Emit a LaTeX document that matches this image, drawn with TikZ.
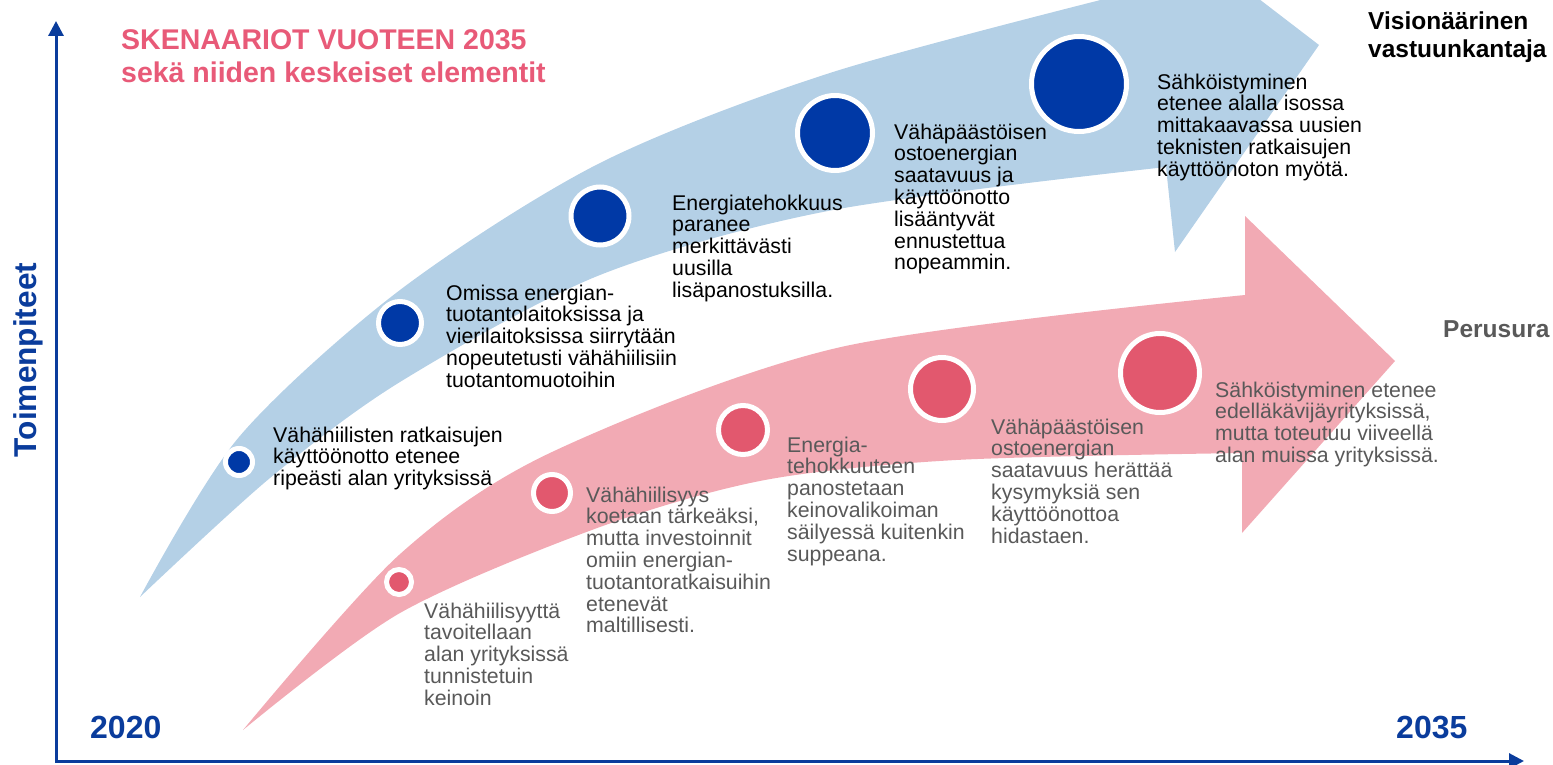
\documentclass[tikz,border=0pt]{standalone}
\usepackage{fontspec}
\setmainfont{Liberation Sans}
\usetikzlibrary{arrows.meta}
\definecolor{axisblue}{HTML}{0A3C9C}
\definecolor{lightblue}{HTML}{B4D0E6}
\definecolor{darkblue}{HTML}{0039A6}
\definecolor{lightpink}{HTML}{F2AAB4}
\definecolor{darkpink}{HTML}{E2586E}
\definecolor{titlepink}{HTML}{E85A78}
\definecolor{textgray}{HTML}{595959}
\begin{document}
\begin{tikzpicture}[x=1pt,y=-1pt,
	bluedot/.style={circle, fill=darkblue, draw=white, line width=5pt, inner sep=0pt},
	pinkdot/.style={circle, fill=darkpink, draw=white, line width=5pt, inner sep=0pt},
	txt/.style={anchor=north west, inner sep=0pt, align=left, font=\fontsize{21.3}{21.8}\selectfont},
	graytxt/.style={txt, text=textgray},
	label/.style={inner sep=0pt, align=left, font=\fontsize{24.5}{28}\selectfont\bfseries},
	year/.style={anchor=base west, inner sep=0pt, text=axisblue, font=\fontsize{32}{36}\selectfont\bfseries}]
	\path[use as bounding box] (0,0) rectangle (1553,765);
	\clip (0,0) rectangle (1553,765);
	\fill[lightblue] plot[smooth] coordinates {(140,597) (239,437) (400,290) (600,163) (833,72) (1148,-12)}
		-- (1130,-100) -- (1319,45) -- (1175,252)
		-- plot[smooth] coordinates {(1166,167) (833,210) (600,275) (400,382) (270,478) (140,597)} -- cycle;
	\fill[lightpink] plot[smooth] coordinates {(243,730) (399,555) (552,452) (841,347) (1245,295)}
		-- (1245,216) -- (1395,361) -- (1242,533)
		-- plot[smooth] coordinates {(1242,453) (956,460) (765,480) (600,527) (400,613) (243,730)} -- cycle;
	\node[bluedot, minimum size=27pt] (b1) at (239,462) {};
	\node[bluedot, minimum size=43pt] (b2) at (400,323) {};
	\node[bluedot, minimum size=58pt] (b3) at (600,216) {};
	\node[bluedot, minimum size=75pt] (b4) at (835,133) {};
	\node[bluedot, minimum size=95pt] (b5) at (1079,84) {};
	\node[pinkdot, minimum size=25pt] (p1) at (399,582) {};
	\node[pinkdot, minimum size=37pt] (p2) at (552,493) {};
	\node[pinkdot, minimum size=49pt] (p3) at (743,430) {};
	\node[pinkdot, minimum size=63pt] (p4) at (942,389) {};
	\node[pinkdot, minimum size=79pt] (p5) at (1160,373) {};
	\node[txt] (tb1) at (273,426.5) {Vähähiilisten ratkaisujen\\käyttöönotto etenee\\ripeästi alan yrityksissä};
	\node[txt] (tb2) at (446,284.5) {Omissa energian-\\tuotantolaitoksissa ja\\vierilaitoksissa siirrytään\\nopeutetusti vähähiilisiin\\tuotantomuotoihin};
	\node[txt] (tb3) at (672,194.5) {Energiatehokkuus\\paranee\\merkittävästi\\uusilla\\lisäpanostuksilla.};
	\node[txt] (tb4) at (894,123.5) {Vähäpäästöisen\\ostoenergian\\saatavuus ja\\käyttöönotto\\lisääntyvät\\ennustettua\\nopeammin.};
	\node[txt] (tb5) at (1157,73.5) {Sähköistyminen\\etenee alalla isossa\\mittakaavassa uusien\\teknisten ratkaisujen\\käyttöönoton myötä.};
	\node[graytxt] (tp1) at (424,602.5) {Vähähiilisyyttä\\tavoitellaan\\alan yrityksissä\\tunnistetuin\\keinoin};
	\node[graytxt] (tp2) at (586,486.5) {Vähähiilisyys\\koetaan tärkeäksi,\\mutta investoinnit\\omiin energian-\\tuotantoratkaisuihin\\etenevät\\maltillisesti.};
	\node[graytxt] (tp3) at (787,436.5) {Energia-\\tehokkuuteen\\panostetaan\\keinovalikoiman\\säilyessä kuitenkin\\suppeana.};
	\node[graytxt] (tp4) at (991,418.5) {Vähäpäästöisen\\ostoenergian\\saatavuus herättää\\kysymyksiä sen\\käyttöönottoa\\hidastaen.};
	\node[graytxt] (tp5) at (1215,381.5) {Sähköistyminen etenee\\edelläkävijäyrityksissä,\\mutta toteutuu viiveellä\\alan muissa yrityksissä.};
	\node[anchor=north west, inner sep=0pt, align=left, text=titlepink, font=\fontsize{28.5}{33}\selectfont\bfseries] (title) at (121,29) {SKENAARIOT VUOTEEN 2035\\sekä niiden keskeiset elementit};
	\node[label, anchor=north west] (vision) at (1368,12) {Visionäärinen\\vastuunkantaja};
	\node[label, anchor=base west, text=textgray] (base) at (1443,337) {Perusura};
	\coordinate (origin) at (56,761);
	\coordinate (ytop) at (56,21);
	\coordinate (xend) at (1524,761);
	\draw[axisblue, line width=3pt, line join=miter, {Triangle[length=15pt,width=15pt]}-{Triangle[length=15pt,width=15pt]}] (ytop) -- (origin) -- (xend);
	\node[rotate=90, anchor=base, inner sep=0pt, text=axisblue, font=\fontsize{31.6}{36}\selectfont\bfseries] (ylabel) at (36,360) {Toimenpiteet};
	\node[year] (start) at (90,738) {2020};
	\node[year] (end) at (1396,738) {2035};
\end{tikzpicture}
\end{document}
